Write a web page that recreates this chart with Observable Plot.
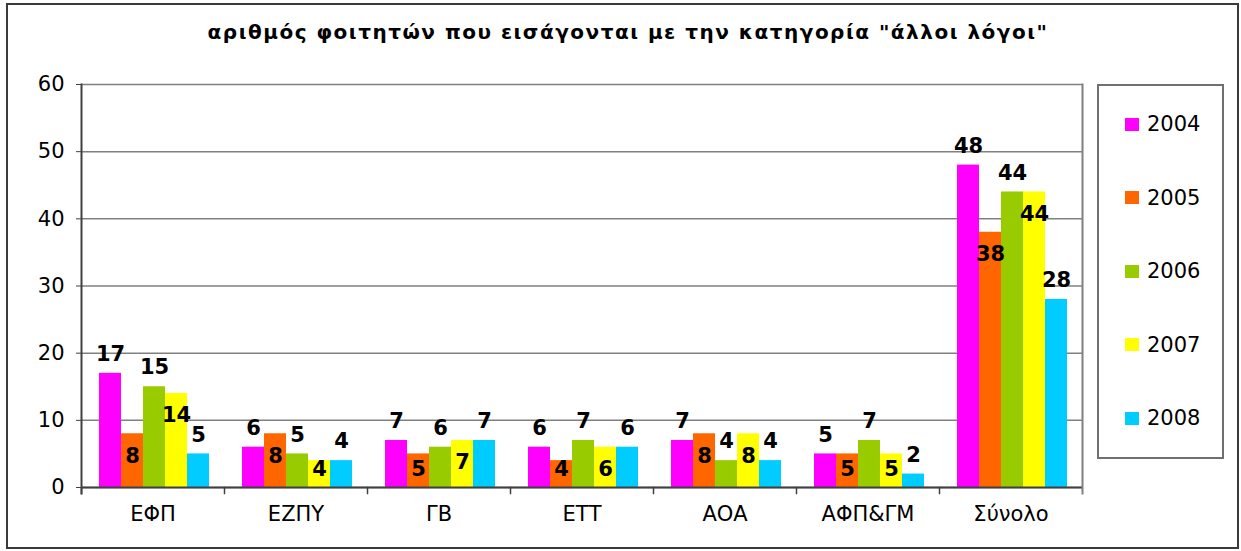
<!DOCTYPE html>
<html>
<head>
<meta charset="utf-8">
<script src="https://cdn.jsdelivr.net/npm/d3@7"></script>
<script src="https://cdn.jsdelivr.net/npm/@observablehq/plot@0.6"></script>
<style>
  body { margin: 0; background: #fff; font-family: "DejaVu Sans", Verdana, sans-serif; }
  #wrap { position: relative; width: 1241px; height: 551px; overflow: hidden; background: #fff; }
  #border { position: absolute; left: 6px; top: 3px; width: 1233px; height: 546px; border: 2px solid #3a3a3a; box-sizing: border-box; }
  #title { position: absolute; left: 0; width: 1256px; top: 20px; text-align: center; font-weight: bold; font-size: 20px; letter-spacing: 1.5px; color: #000; }
  #chart { position: absolute; left: 0; top: 0; }
  #legend { position: absolute; left: 1097px; top: 84px; width: 127px; height: 375px; border: 2px solid #707070; box-sizing: border-box; background: #fff; }
  .item { position: absolute; left: 26px; height: 24px; display: flex; align-items: center; font-size: 21px; color: #000; }
  .sw { width: 14px; height: 13px; margin-right: 8px; }
</style>
</head>
<body>
<div id="wrap">
  <div id="border"></div>
  <div id="chart"></div>
  <div id="title"></div>
  <div id="legend"></div>
</div>
<script>
const titleText = "αριθμός φοιτητών που εισάγονται με την κατηγορία \"άλλοι λόγοι\"";
const categories = ["ΕΦΠ", "ΕΖΠΥ", "ΓΒ", "ΕΤΤ", "ΑΟΑ", "ΑΦΠ&ΓΜ", "Σύνολο"];
const years = ["2004", "2005", "2006", "2007", "2008"];
const v2004 = [17, 6, 7, 6, 7, 5, 48];
const v2005 = [8, 8, 5, 4, 8, 5, 38];
const v2006 = [15, 5, 6, 7, 4, 7, 44];
const v2007 = [14, 4, 7, 6, 8, 5, 44];
const v2008 = [5, 4, 7, 6, 4, 2, 28];
const colors = ["#ff00ff", "#ff6600", "#99cc00", "#ffff00", "#00ccff"];
const yTicks = [0, 10, 20, 30, 40, 50, 60];

const series = [v2004, v2005, v2006, v2007, v2008];
const data = [];
categories.forEach((c, i) => years.forEach((y, j) => data.push({cat: c, year: y, value: series[j][i], idx: j})));

document.getElementById("title").textContent = titleText;

const W = 1241, H = 551, mL = 80, mR = 158, mT = 84, mB = 64;
const innerH = H - mT - mB;
const yMax = 60;
const pxPerUnit = innerH / yMax;
// labels of 2005 / 2007 sit inside the bar, below its top, but never lower than a minimum above the axis
const insideY = d => Math.max(d.value - 22 / pxPerUnit, 18 / pxPerUnit);

const chart = Plot.plot({
  width: W, height: H,
  marginLeft: mL, marginRight: mR, marginTop: mT, marginBottom: mB,
  style: { fontFamily: "DejaVu Sans, Verdana, sans-serif", fontSize: "21px", color: "#000", background: "transparent" },
  fx: { domain: categories, padding: 0, label: null },
  x: { domain: years, paddingInner: 0, paddingOuter: 0.65, align: 0.55, axis: null },
  y: { domain: [0, yMax], label: null },
  color: { domain: years, range: colors },
  marks: [
    Plot.gridY(yTicks, { stroke: "#808080", strokeOpacity: 1, strokeWidth: 1.5 }),
    Plot.barY(data, { fx: "cat", x: "year", y: "value", fill: "year" }),
    Plot.ruleY([0], { stroke: "#404040", strokeWidth: 2 }),
    Plot.frame({ anchor: "left", stroke: "#404040", strokeWidth: 1.5, insetTop: innerH, insetBottom: -6 }),
    Plot.frame({ anchor: "left", stroke: "#404040", strokeWidth: 2, insetBottom: -6, fx: () => categories[0] }),
    Plot.frame({ anchor: "right", stroke: "#808080", strokeWidth: 2, insetBottom: -6, fx: () => categories[categories.length - 1] }),
    Plot.axisY(yTicks, { tickSize: 5, tickPadding: 12, fontSize: 21, label: null, stroke: "#404040" }),
    Plot.axisFx({ anchor: "bottom", tickSize: 0, tickPadding: 19, fontSize: 21, label: null }),
    Plot.text(data.filter(d => d.idx % 2 === 0), { fx: "cat", x: "year", y: "value", text: "value", dy: -19, fontWeight: "bold", fontSize: 21, fill: "#000" }),
    Plot.text(data.filter(d => d.idx % 2 === 1), { fx: "cat", x: "year", y: insideY, text: "value", fontWeight: "bold", fontSize: 21, fill: "#000" })
  ]
});
document.getElementById("chart").appendChild(chart);

const legend = document.getElementById("legend");
years.forEach((y, i) => {
  const it = document.createElement("div");
  it.className = "item";
  it.style.top = (26 + i * 73.5) + "px";
  const sw = document.createElement("div");
  sw.className = "sw";
  sw.style.background = colors[i];
  const t = document.createElement("span");
  t.textContent = y;
  it.appendChild(sw);
  it.appendChild(t);
  legend.appendChild(it);
});
</script>
</body>
</html>
